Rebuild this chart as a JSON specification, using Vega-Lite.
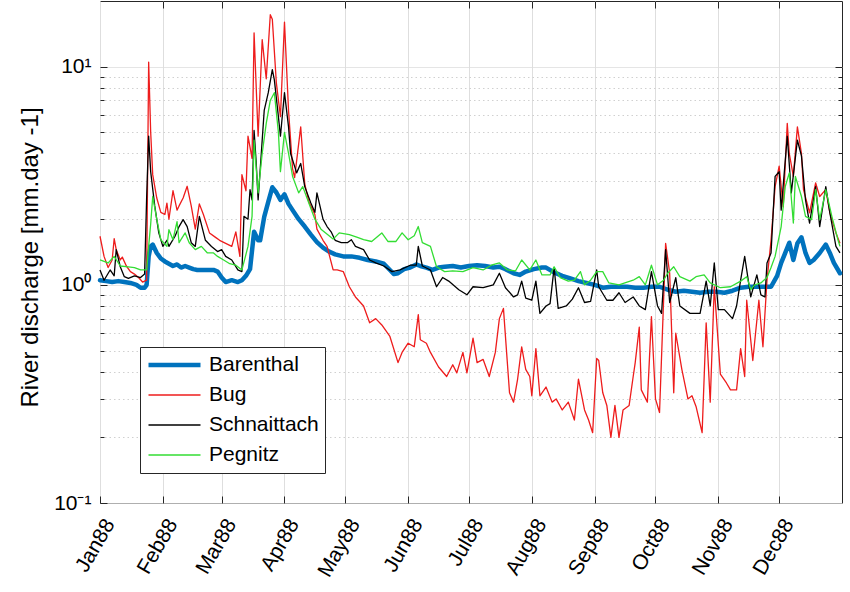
{
"$schema":"https://vega.github.io/schema/vega-lite/v6.json",
"width":742,"height":502,"autosize":"none",
"padding":{"left":100,"top":1,"right":8,"bottom":89},
"background":"white",
"config":{
 "font":"Liberation Sans",
 "view":{"stroke":"#262626","strokeWidth":1},
 "axis":{"labelFont":"Liberation Sans","labelFontSize":21,"labelColor":"#000000","titleFont":"Liberation Sans","titleFontSize":24,"titleFontWeight":"normal","titleColor":"#000000","domainColor":"#262626","tickColor":"#262626","tickWidth":1,"gridColor":"#dedede","gridWidth":1,"labelOverlap":false,"labelBound":false,"labelFlush":false}
},
"data":{"values":[
{"s":"Barenthal","t":"1988-01-01","v":1.05},{"s":"Barenthal","t":"1988-01-04","v":1.04},{"s":"Barenthal","t":"1988-01-07","v":1.03},{"s":"Barenthal","t":"1988-01-10","v":1.04},{"s":"Barenthal","t":"1988-01-13","v":1.03},{"s":"Barenthal","t":"1988-01-16","v":1.02},{"s":"Barenthal","t":"1988-01-19","v":1.0},{"s":"Barenthal","t":"1988-01-21","v":0.97},{"s":"Barenthal","t":"1988-01-23","v":0.97},{"s":"Barenthal","t":"1988-01-24","v":1.0},{"s":"Barenthal","t":"1988-01-25","v":1.35},{"s":"Barenthal","t":"1988-01-26","v":1.5},{"s":"Barenthal","t":"1988-01-27","v":1.53},{"s":"Barenthal","t":"1988-01-29","v":1.4},{"s":"Barenthal","t":"1988-01-31","v":1.32},{"s":"Barenthal","t":"1988-02-02","v":1.28},{"s":"Barenthal","t":"1988-02-04","v":1.25},{"s":"Barenthal","t":"1988-02-06","v":1.22},{"s":"Barenthal","t":"1988-02-08","v":1.24},{"s":"Barenthal","t":"1988-02-10","v":1.2},{"s":"Barenthal","t":"1988-02-12","v":1.22},{"s":"Barenthal","t":"1988-02-14","v":1.2},{"s":"Barenthal","t":"1988-02-16","v":1.18},{"s":"Barenthal","t":"1988-02-18","v":1.17},{"s":"Barenthal","t":"1988-02-20","v":1.17},{"s":"Barenthal","t":"1988-02-23","v":1.17},{"s":"Barenthal","t":"1988-02-26","v":1.17},{"s":"Barenthal","t":"1988-02-28","v":1.15},{"s":"Barenthal","t":"1988-03-01","v":1.08},{"s":"Barenthal","t":"1988-03-03","v":1.03},{"s":"Barenthal","t":"1988-03-06","v":1.05},{"s":"Barenthal","t":"1988-03-09","v":1.03},{"s":"Barenthal","t":"1988-03-11","v":1.05},{"s":"Barenthal","t":"1988-03-13","v":1.1},{"s":"Barenthal","t":"1988-03-15","v":1.18},{"s":"Barenthal","t":"1988-03-17","v":1.75},{"s":"Barenthal","t":"1988-03-19","v":1.6},{"s":"Barenthal","t":"1988-03-20","v":1.6},{"s":"Barenthal","t":"1988-03-22","v":2.05},{"s":"Barenthal","t":"1988-03-24","v":2.4},{"s":"Barenthal","t":"1988-03-26","v":2.8},{"s":"Barenthal","t":"1988-03-28","v":2.65},{"s":"Barenthal","t":"1988-03-30","v":2.45},{"s":"Barenthal","t":"1988-04-01","v":2.6},{"s":"Barenthal","t":"1988-04-03","v":2.35},{"s":"Barenthal","t":"1988-04-05","v":2.2},{"s":"Barenthal","t":"1988-04-08","v":2.0},{"s":"Barenthal","t":"1988-04-11","v":1.85},{"s":"Barenthal","t":"1988-04-14","v":1.7},{"s":"Barenthal","t":"1988-04-17","v":1.57},{"s":"Barenthal","t":"1988-04-20","v":1.48},{"s":"Barenthal","t":"1988-04-23","v":1.42},{"s":"Barenthal","t":"1988-04-26","v":1.38},{"s":"Barenthal","t":"1988-04-30","v":1.35},{"s":"Barenthal","t":"1988-05-04","v":1.35},{"s":"Barenthal","t":"1988-05-08","v":1.33},{"s":"Barenthal","t":"1988-05-12","v":1.3},{"s":"Barenthal","t":"1988-05-16","v":1.28},{"s":"Barenthal","t":"1988-05-20","v":1.25},{"s":"Barenthal","t":"1988-05-23","v":1.17},{"s":"Barenthal","t":"1988-05-25","v":1.12},{"s":"Barenthal","t":"1988-05-27","v":1.13},{"s":"Barenthal","t":"1988-05-30","v":1.18},{"s":"Barenthal","t":"1988-06-02","v":1.2},{"s":"Barenthal","t":"1988-06-05","v":1.24},{"s":"Barenthal","t":"1988-06-07","v":1.22},{"s":"Barenthal","t":"1988-06-10","v":1.2},{"s":"Barenthal","t":"1988-06-13","v":1.17},{"s":"Barenthal","t":"1988-06-16","v":1.2},{"s":"Barenthal","t":"1988-06-19","v":1.21},{"s":"Barenthal","t":"1988-06-23","v":1.22},{"s":"Barenthal","t":"1988-06-27","v":1.2},{"s":"Barenthal","t":"1988-07-01","v":1.22},{"s":"Barenthal","t":"1988-07-05","v":1.23},{"s":"Barenthal","t":"1988-07-09","v":1.22},{"s":"Barenthal","t":"1988-07-13","v":1.2},{"s":"Barenthal","t":"1988-07-16","v":1.21},{"s":"Barenthal","t":"1988-07-19","v":1.18},{"s":"Barenthal","t":"1988-07-23","v":1.13},{"s":"Barenthal","t":"1988-07-26","v":1.11},{"s":"Barenthal","t":"1988-07-29","v":1.15},{"s":"Barenthal","t":"1988-08-02","v":1.18},{"s":"Barenthal","t":"1988-08-06","v":1.2},{"s":"Barenthal","t":"1988-08-08","v":1.2},{"s":"Barenthal","t":"1988-08-12","v":1.14},{"s":"Barenthal","t":"1988-08-16","v":1.1},{"s":"Barenthal","t":"1988-08-20","v":1.07},{"s":"Barenthal","t":"1988-08-24","v":1.04},{"s":"Barenthal","t":"1988-08-28","v":1.02},{"s":"Barenthal","t":"1988-09-01","v":1.0},{"s":"Barenthal","t":"1988-09-05","v":0.97},{"s":"Barenthal","t":"1988-09-09","v":0.98},{"s":"Barenthal","t":"1988-09-13","v":0.98},{"s":"Barenthal","t":"1988-09-17","v":0.98},{"s":"Barenthal","t":"1988-09-21","v":0.97},{"s":"Barenthal","t":"1988-09-25","v":0.97},{"s":"Barenthal","t":"1988-09-29","v":0.98},{"s":"Barenthal","t":"1988-10-03","v":0.98},{"s":"Barenthal","t":"1988-10-07","v":0.95},{"s":"Barenthal","t":"1988-10-11","v":0.93},{"s":"Barenthal","t":"1988-10-15","v":0.94},{"s":"Barenthal","t":"1988-10-19","v":0.93},{"s":"Barenthal","t":"1988-10-23","v":0.92},{"s":"Barenthal","t":"1988-10-27","v":0.93},{"s":"Barenthal","t":"1988-10-31","v":0.93},{"s":"Barenthal","t":"1988-11-04","v":0.92},{"s":"Barenthal","t":"1988-11-08","v":0.94},{"s":"Barenthal","t":"1988-11-12","v":0.97},{"s":"Barenthal","t":"1988-11-16","v":0.98},{"s":"Barenthal","t":"1988-11-20","v":0.98},{"s":"Barenthal","t":"1988-11-24","v":0.98},{"s":"Barenthal","t":"1988-11-27","v":0.98},{"s":"Barenthal","t":"1988-11-30","v":1.1},{"s":"Barenthal","t":"1988-12-02","v":1.26},{"s":"Barenthal","t":"1988-12-04","v":1.4},{"s":"Barenthal","t":"1988-12-06","v":1.56},{"s":"Barenthal","t":"1988-12-08","v":1.3},{"s":"Barenthal","t":"1988-12-10","v":1.55},{"s":"Barenthal","t":"1988-12-12","v":1.65},{"s":"Barenthal","t":"1988-12-14","v":1.4},{"s":"Barenthal","t":"1988-12-16","v":1.26},{"s":"Barenthal","t":"1988-12-18","v":1.3},{"s":"Barenthal","t":"1988-12-21","v":1.4},{"s":"Barenthal","t":"1988-12-24","v":1.53},{"s":"Barenthal","t":"1988-12-26","v":1.4},{"s":"Barenthal","t":"1988-12-28","v":1.26},{"s":"Barenthal","t":"1988-12-31","v":1.13},
{"s":"Bug","t":"1988-01-01","v":1.67},{"s":"Bug","t":"1988-01-03","v":1.35},{"s":"Bug","t":"1988-01-05","v":1.2},{"s":"Bug","t":"1988-01-07","v":1.3},{"s":"Bug","t":"1988-01-08","v":1.63},{"s":"Bug","t":"1988-01-09","v":1.45},{"s":"Bug","t":"1988-01-11","v":1.3},{"s":"Bug","t":"1988-01-12","v":1.34},{"s":"Bug","t":"1988-01-14","v":1.22},{"s":"Bug","t":"1988-01-16","v":1.15},{"s":"Bug","t":"1988-01-18","v":1.12},{"s":"Bug","t":"1988-01-20","v":1.08},{"s":"Bug","t":"1988-01-22","v":1.03},{"s":"Bug","t":"1988-01-24","v":1.05},{"s":"Bug","t":"1988-01-25","v":10.5},{"s":"Bug","t":"1988-01-26","v":5.0},{"s":"Bug","t":"1988-01-27","v":3.2},{"s":"Bug","t":"1988-01-29","v":2.5},{"s":"Bug","t":"1988-01-31","v":2.15},{"s":"Bug","t":"1988-02-02","v":2.1},{"s":"Bug","t":"1988-02-03","v":2.37},{"s":"Bug","t":"1988-02-04","v":2.0},{"s":"Bug","t":"1988-02-06","v":2.7},{"s":"Bug","t":"1988-02-08","v":2.2},{"s":"Bug","t":"1988-02-09","v":2.3},{"s":"Bug","t":"1988-02-11","v":2.5},{"s":"Bug","t":"1988-02-13","v":2.83},{"s":"Bug","t":"1988-02-15","v":2.3},{"s":"Bug","t":"1988-02-17","v":1.8},{"s":"Bug","t":"1988-02-19","v":2.35},{"s":"Bug","t":"1988-02-21","v":2.1},{"s":"Bug","t":"1988-02-24","v":1.73},{"s":"Bug","t":"1988-02-27","v":1.65},{"s":"Bug","t":"1988-02-29","v":1.6},{"s":"Bug","t":"1988-03-03","v":1.55},{"s":"Bug","t":"1988-03-06","v":1.5},{"s":"Bug","t":"1988-03-08","v":1.75},{"s":"Bug","t":"1988-03-10","v":1.35},{"s":"Bug","t":"1988-03-11","v":3.2},{"s":"Bug","t":"1988-03-13","v":2.7},{"s":"Bug","t":"1988-03-14","v":4.8},{"s":"Bug","t":"1988-03-16","v":3.8},{"s":"Bug","t":"1988-03-17","v":14.3},{"s":"Bug","t":"1988-03-19","v":4.8},{"s":"Bug","t":"1988-03-21","v":13.3},{"s":"Bug","t":"1988-03-23","v":8.8},{"s":"Bug","t":"1988-03-25","v":17.3},{"s":"Bug","t":"1988-03-26","v":16.5},{"s":"Bug","t":"1988-03-28","v":8.4},{"s":"Bug","t":"1988-03-30","v":5.9},{"s":"Bug","t":"1988-04-01","v":16},{"s":"Bug","t":"1988-04-03","v":6.3},{"s":"Bug","t":"1988-04-05","v":3.4},{"s":"Bug","t":"1988-04-06","v":3.1},{"s":"Bug","t":"1988-04-09","v":5.3},{"s":"Bug","t":"1988-04-11","v":2.9},{"s":"Bug","t":"1988-04-13","v":2.4},{"s":"Bug","t":"1988-04-16","v":2.1},{"s":"Bug","t":"1988-04-17","v":1.8},{"s":"Bug","t":"1988-04-20","v":1.6},{"s":"Bug","t":"1988-04-22","v":1.5},{"s":"Bug","t":"1988-04-25","v":1.17},{"s":"Bug","t":"1988-04-27","v":1.17},{"s":"Bug","t":"1988-04-30","v":1.15},{"s":"Bug","t":"1988-05-03","v":0.98},{"s":"Bug","t":"1988-05-06","v":0.88},{"s":"Bug","t":"1988-05-10","v":0.8},{"s":"Bug","t":"1988-05-13","v":0.67},{"s":"Bug","t":"1988-05-16","v":0.7},{"s":"Bug","t":"1988-05-19","v":0.655},{"s":"Bug","t":"1988-05-23","v":0.58},{"s":"Bug","t":"1988-05-27","v":0.44},{"s":"Bug","t":"1988-05-29","v":0.49},{"s":"Bug","t":"1988-06-01","v":0.54},{"s":"Bug","t":"1988-06-04","v":0.52},{"s":"Bug","t":"1988-06-06","v":0.73},{"s":"Bug","t":"1988-06-07","v":0.56},{"s":"Bug","t":"1988-06-10","v":0.54},{"s":"Bug","t":"1988-06-12","v":0.49},{"s":"Bug","t":"1988-06-16","v":0.42},{"s":"Bug","t":"1988-06-20","v":0.38},{"s":"Bug","t":"1988-06-23","v":0.43},{"s":"Bug","t":"1988-06-25","v":0.395},{"s":"Bug","t":"1988-06-28","v":0.49},{"s":"Bug","t":"1988-06-30","v":0.395},{"s":"Bug","t":"1988-07-03","v":0.57},{"s":"Bug","t":"1988-07-05","v":0.44},{"s":"Bug","t":"1988-07-08","v":0.455},{"s":"Bug","t":"1988-07-11","v":0.38},{"s":"Bug","t":"1988-07-14","v":0.49},{"s":"Bug","t":"1988-07-16","v":0.7},{"s":"Bug","t":"1988-07-18","v":0.78},{"s":"Bug","t":"1988-07-21","v":0.32},{"s":"Bug","t":"1988-07-23","v":0.29},{"s":"Bug","t":"1988-07-25","v":0.37},{"s":"Bug","t":"1988-07-27","v":0.52},{"s":"Bug","t":"1988-07-29","v":0.41},{"s":"Bug","t":"1988-07-31","v":0.38},{"s":"Bug","t":"1988-08-01","v":0.31},{"s":"Bug","t":"1988-08-03","v":0.51},{"s":"Bug","t":"1988-08-05","v":0.31},{"s":"Bug","t":"1988-08-08","v":0.34},{"s":"Bug","t":"1988-08-11","v":0.29},{"s":"Bug","t":"1988-08-13","v":0.3},{"s":"Bug","t":"1988-08-16","v":0.267},{"s":"Bug","t":"1988-08-19","v":0.29},{"s":"Bug","t":"1988-08-22","v":0.24},{"s":"Bug","t":"1988-08-24","v":0.37},{"s":"Bug","t":"1988-08-27","v":0.267},{"s":"Bug","t":"1988-08-29","v":0.24},{"s":"Bug","t":"1988-08-31","v":0.21},{"s":"Bug","t":"1988-09-02","v":0.46},{"s":"Bug","t":"1988-09-03","v":0.45},{"s":"Bug","t":"1988-09-05","v":0.32},{"s":"Bug","t":"1988-09-07","v":0.28},{"s":"Bug","t":"1988-09-09","v":0.2},{"s":"Bug","t":"1988-09-11","v":0.28},{"s":"Bug","t":"1988-09-13","v":0.2},{"s":"Bug","t":"1988-09-15","v":0.267},{"s":"Bug","t":"1988-09-18","v":0.28},{"s":"Bug","t":"1988-09-20","v":0.38},{"s":"Bug","t":"1988-09-21","v":0.44},{"s":"Bug","t":"1988-09-23","v":0.64},{"s":"Bug","t":"1988-09-24","v":0.33},{"s":"Bug","t":"1988-09-27","v":0.29},{"s":"Bug","t":"1988-09-29","v":0.715},{"s":"Bug","t":"1988-10-01","v":0.3},{"s":"Bug","t":"1988-10-03","v":0.26},{"s":"Bug","t":"1988-10-05","v":0.85},{"s":"Bug","t":"1988-10-06","v":1.55},{"s":"Bug","t":"1988-10-08","v":1.13},{"s":"Bug","t":"1988-10-10","v":0.32},{"s":"Bug","t":"1988-10-11","v":0.6},{"s":"Bug","t":"1988-10-14","v":0.41},{"s":"Bug","t":"1988-10-17","v":0.3},{"s":"Bug","t":"1988-10-19","v":0.31},{"s":"Bug","t":"1988-10-21","v":0.277},{"s":"Bug","t":"1988-10-24","v":0.21},{"s":"Bug","t":"1988-10-26","v":0.67},{"s":"Bug","t":"1988-10-28","v":0.29},{"s":"Bug","t":"1988-10-30","v":0.98},{"s":"Bug","t":"1988-11-02","v":0.39},{"s":"Bug","t":"1988-11-05","v":0.355},{"s":"Bug","t":"1988-11-07","v":0.33},{"s":"Bug","t":"1988-11-10","v":0.33},{"s":"Bug","t":"1988-11-12","v":0.51},{"s":"Bug","t":"1988-11-14","v":0.38},{"s":"Bug","t":"1988-11-15","v":0.85},{"s":"Bug","t":"1988-11-18","v":0.45},{"s":"Bug","t":"1988-11-21","v":0.85},{"s":"Bug","t":"1988-11-23","v":0.52},{"s":"Bug","t":"1988-11-25","v":1.05},{"s":"Bug","t":"1988-11-27","v":1.6},{"s":"Bug","t":"1988-11-29","v":2.82},{"s":"Bug","t":"1988-12-01","v":3.5},{"s":"Bug","t":"1988-12-03","v":2.28},{"s":"Bug","t":"1988-12-05","v":5.5},{"s":"Bug","t":"1988-12-06","v":4.0},{"s":"Bug","t":"1988-12-08","v":3.14},{"s":"Bug","t":"1988-12-10","v":5.3},{"s":"Bug","t":"1988-12-12","v":4.0},{"s":"Bug","t":"1988-12-13","v":2.73},{"s":"Bug","t":"1988-12-16","v":2.14},{"s":"Bug","t":"1988-12-19","v":2.93},{"s":"Bug","t":"1988-12-21","v":2.54},{"s":"Bug","t":"1988-12-24","v":2.73},{"s":"Bug","t":"1988-12-26","v":2.14},{"s":"Bug","t":"1988-12-29","v":1.73},{"s":"Bug","t":"1988-12-31","v":1.55},
{"s":"Schnaittach","t":"1988-01-01","v":1.17},{"s":"Schnaittach","t":"1988-01-03","v":1.05},{"s":"Schnaittach","t":"1988-01-06","v":1.17},{"s":"Schnaittach","t":"1988-01-08","v":1.1},{"s":"Schnaittach","t":"1988-01-09","v":1.45},{"s":"Schnaittach","t":"1988-01-11","v":1.21},{"s":"Schnaittach","t":"1988-01-13","v":1.09},{"s":"Schnaittach","t":"1988-01-15","v":1.07},{"s":"Schnaittach","t":"1988-01-18","v":1.1},{"s":"Schnaittach","t":"1988-01-21","v":1.08},{"s":"Schnaittach","t":"1988-01-23","v":1.12},{"s":"Schnaittach","t":"1988-01-24","v":2.5},{"s":"Schnaittach","t":"1988-01-25","v":4.8},{"s":"Schnaittach","t":"1988-01-26","v":3.3},{"s":"Schnaittach","t":"1988-01-28","v":2.3},{"s":"Schnaittach","t":"1988-01-30","v":1.73},{"s":"Schnaittach","t":"1988-02-01","v":1.5},{"s":"Schnaittach","t":"1988-02-03","v":1.6},{"s":"Schnaittach","t":"1988-02-04","v":1.5},{"s":"Schnaittach","t":"1988-02-07","v":1.67},{"s":"Schnaittach","t":"1988-02-09","v":1.85},{"s":"Schnaittach","t":"1988-02-11","v":1.99},{"s":"Schnaittach","t":"1988-02-13","v":1.85},{"s":"Schnaittach","t":"1988-02-15","v":1.56},{"s":"Schnaittach","t":"1988-02-17","v":1.5},{"s":"Schnaittach","t":"1988-02-19","v":2.06},{"s":"Schnaittach","t":"1988-02-22","v":1.6},{"s":"Schnaittach","t":"1988-02-25","v":1.5},{"s":"Schnaittach","t":"1988-02-28","v":1.42},{"s":"Schnaittach","t":"1988-03-01","v":1.45},{"s":"Schnaittach","t":"1988-03-03","v":1.35},{"s":"Schnaittach","t":"1988-03-06","v":1.3},{"s":"Schnaittach","t":"1988-03-09","v":1.17},{"s":"Schnaittach","t":"1988-03-11","v":1.15},{"s":"Schnaittach","t":"1988-03-12","v":2.06},{"s":"Schnaittach","t":"1988-03-14","v":2.0},{"s":"Schnaittach","t":"1988-03-15","v":2.73},{"s":"Schnaittach","t":"1988-03-16","v":2.45},{"s":"Schnaittach","t":"1988-03-17","v":5.1},{"s":"Schnaittach","t":"1988-03-18","v":3.7},{"s":"Schnaittach","t":"1988-03-19","v":2.45},{"s":"Schnaittach","t":"1988-03-21","v":4.6},{"s":"Schnaittach","t":"1988-03-22","v":6.3},{"s":"Schnaittach","t":"1988-03-24","v":7.6},{"s":"Schnaittach","t":"1988-03-26","v":9.7},{"s":"Schnaittach","t":"1988-03-27","v":8.7},{"s":"Schnaittach","t":"1988-03-29","v":5.9},{"s":"Schnaittach","t":"1988-03-30","v":4.8},{"s":"Schnaittach","t":"1988-04-01","v":7.6},{"s":"Schnaittach","t":"1988-04-03","v":5.3},{"s":"Schnaittach","t":"1988-04-04","v":4.0},{"s":"Schnaittach","t":"1988-04-07","v":3.26},{"s":"Schnaittach","t":"1988-04-09","v":3.6},{"s":"Schnaittach","t":"1988-04-11","v":2.82},{"s":"Schnaittach","t":"1988-04-14","v":2.37},{"s":"Schnaittach","t":"1988-04-16","v":2.15},{"s":"Schnaittach","t":"1988-04-17","v":2.64},{"s":"Schnaittach","t":"1988-04-20","v":2.0},{"s":"Schnaittach","t":"1988-04-22","v":1.85},{"s":"Schnaittach","t":"1988-04-24","v":1.75},{"s":"Schnaittach","t":"1988-04-26","v":1.6},{"s":"Schnaittach","t":"1988-04-29","v":1.56},{"s":"Schnaittach","t":"1988-05-02","v":1.56},{"s":"Schnaittach","t":"1988-05-04","v":1.61},{"s":"Schnaittach","t":"1988-05-06","v":1.5},{"s":"Schnaittach","t":"1988-05-10","v":1.45},{"s":"Schnaittach","t":"1988-05-13","v":1.3},{"s":"Schnaittach","t":"1988-05-16","v":1.26},{"s":"Schnaittach","t":"1988-05-20","v":1.22},{"s":"Schnaittach","t":"1988-05-24","v":1.15},{"s":"Schnaittach","t":"1988-05-28","v":1.17},{"s":"Schnaittach","t":"1988-06-02","v":1.23},{"s":"Schnaittach","t":"1988-06-05","v":1.23},{"s":"Schnaittach","t":"1988-06-06","v":1.5},{"s":"Schnaittach","t":"1988-06-08","v":1.22},{"s":"Schnaittach","t":"1988-06-12","v":1.17},{"s":"Schnaittach","t":"1988-06-15","v":0.98},{"s":"Schnaittach","t":"1988-06-18","v":1.08},{"s":"Schnaittach","t":"1988-06-21","v":1.04},{"s":"Schnaittach","t":"1988-06-26","v":0.95},{"s":"Schnaittach","t":"1988-06-30","v":0.9},{"s":"Schnaittach","t":"1988-07-03","v":0.98},{"s":"Schnaittach","t":"1988-07-08","v":0.97},{"s":"Schnaittach","t":"1988-07-13","v":1.0},{"s":"Schnaittach","t":"1988-07-16","v":1.13},{"s":"Schnaittach","t":"1988-07-19","v":0.97},{"s":"Schnaittach","t":"1988-07-23","v":0.88},{"s":"Schnaittach","t":"1988-07-25","v":0.9},{"s":"Schnaittach","t":"1988-07-27","v":1.04},{"s":"Schnaittach","t":"1988-07-29","v":0.87},{"s":"Schnaittach","t":"1988-08-01","v":0.85},{"s":"Schnaittach","t":"1988-08-03","v":1.04},{"s":"Schnaittach","t":"1988-08-05","v":0.74},{"s":"Schnaittach","t":"1988-08-08","v":0.8},{"s":"Schnaittach","t":"1988-08-10","v":0.82},{"s":"Schnaittach","t":"1988-08-12","v":1.2},{"s":"Schnaittach","t":"1988-08-14","v":0.78},{"s":"Schnaittach","t":"1988-08-18","v":0.8},{"s":"Schnaittach","t":"1988-08-21","v":0.86},{"s":"Schnaittach","t":"1988-08-24","v":0.97},{"s":"Schnaittach","t":"1988-08-27","v":0.83},{"s":"Schnaittach","t":"1988-08-30","v":0.84},{"s":"Schnaittach","t":"1988-09-02","v":1.17},{"s":"Schnaittach","t":"1988-09-03","v":0.98},{"s":"Schnaittach","t":"1988-09-07","v":0.85},{"s":"Schnaittach","t":"1988-09-10","v":0.85},{"s":"Schnaittach","t":"1988-09-13","v":0.92},{"s":"Schnaittach","t":"1988-09-16","v":0.83},{"s":"Schnaittach","t":"1988-09-20","v":0.88},{"s":"Schnaittach","t":"1988-09-23","v":0.8},{"s":"Schnaittach","t":"1988-09-26","v":0.77},{"s":"Schnaittach","t":"1988-09-29","v":1.15},{"s":"Schnaittach","t":"1988-10-02","v":0.8},{"s":"Schnaittach","t":"1988-10-04","v":0.74},{"s":"Schnaittach","t":"1988-10-06","v":1.45},{"s":"Schnaittach","t":"1988-10-08","v":0.83},{"s":"Schnaittach","t":"1988-10-11","v":1.08},{"s":"Schnaittach","t":"1988-10-13","v":0.8},{"s":"Schnaittach","t":"1988-10-18","v":0.74},{"s":"Schnaittach","t":"1988-10-23","v":0.74},{"s":"Schnaittach","t":"1988-10-26","v":1.04},{"s":"Schnaittach","t":"1988-10-28","v":0.8},{"s":"Schnaittach","t":"1988-10-30","v":1.26},{"s":"Schnaittach","t":"1988-11-01","v":0.77},{"s":"Schnaittach","t":"1988-11-04","v":0.77},{"s":"Schnaittach","t":"1988-11-08","v":0.7},{"s":"Schnaittach","t":"1988-11-10","v":0.8},{"s":"Schnaittach","t":"1988-11-12","v":1.05},{"s":"Schnaittach","t":"1988-11-14","v":1.35},{"s":"Schnaittach","t":"1988-11-17","v":0.88},{"s":"Schnaittach","t":"1988-11-20","v":1.11},{"s":"Schnaittach","t":"1988-11-22","v":0.9},{"s":"Schnaittach","t":"1988-11-24","v":0.88},{"s":"Schnaittach","t":"1988-11-25","v":1.26},{"s":"Schnaittach","t":"1988-11-27","v":1.4},{"s":"Schnaittach","t":"1988-11-29","v":3.14},{"s":"Schnaittach","t":"1988-12-01","v":3.3},{"s":"Schnaittach","t":"1988-12-02","v":2.2},{"s":"Schnaittach","t":"1988-12-05","v":4.8},{"s":"Schnaittach","t":"1988-12-07","v":2.64},{"s":"Schnaittach","t":"1988-12-10","v":4.6},{"s":"Schnaittach","t":"1988-12-12","v":3.9},{"s":"Schnaittach","t":"1988-12-14","v":2.45},{"s":"Schnaittach","t":"1988-12-16","v":1.92},{"s":"Schnaittach","t":"1988-12-19","v":2.82},{"s":"Schnaittach","t":"1988-12-21","v":1.85},{"s":"Schnaittach","t":"1988-12-24","v":2.82},{"s":"Schnaittach","t":"1988-12-26","v":2.14},{"s":"Schnaittach","t":"1988-12-29","v":1.5},{"s":"Schnaittach","t":"1988-12-31","v":1.4},
{"s":"Pegnitz","t":"1988-01-01","v":1.3},{"s":"Pegnitz","t":"1988-01-05","v":1.26},{"s":"Pegnitz","t":"1988-01-08","v":1.35},{"s":"Pegnitz","t":"1988-01-11","v":1.22},{"s":"Pegnitz","t":"1988-01-15","v":1.21},{"s":"Pegnitz","t":"1988-01-18","v":1.2},{"s":"Pegnitz","t":"1988-01-21","v":1.17},{"s":"Pegnitz","t":"1988-01-24","v":1.17},{"s":"Pegnitz","t":"1988-01-25","v":1.5},{"s":"Pegnitz","t":"1988-01-26","v":1.9},{"s":"Pegnitz","t":"1988-01-27","v":2.54},{"s":"Pegnitz","t":"1988-01-29","v":2.0},{"s":"Pegnitz","t":"1988-01-31","v":1.61},{"s":"Pegnitz","t":"1988-02-03","v":1.5},{"s":"Pegnitz","t":"1988-02-04","v":1.79},{"s":"Pegnitz","t":"1988-02-06","v":1.61},{"s":"Pegnitz","t":"1988-02-08","v":1.95},{"s":"Pegnitz","t":"1988-02-09","v":1.56},{"s":"Pegnitz","t":"1988-02-12","v":1.73},{"s":"Pegnitz","t":"1988-02-14","v":1.56},{"s":"Pegnitz","t":"1988-02-17","v":1.45},{"s":"Pegnitz","t":"1988-02-20","v":1.5},{"s":"Pegnitz","t":"1988-02-23","v":1.4},{"s":"Pegnitz","t":"1988-02-26","v":1.4},{"s":"Pegnitz","t":"1988-02-28","v":1.35},{"s":"Pegnitz","t":"1988-03-02","v":1.3},{"s":"Pegnitz","t":"1988-03-05","v":1.25},{"s":"Pegnitz","t":"1988-03-08","v":1.23},{"s":"Pegnitz","t":"1988-03-11","v":1.17},{"s":"Pegnitz","t":"1988-03-14","v":1.5},{"s":"Pegnitz","t":"1988-03-16","v":2.06},{"s":"Pegnitz","t":"1988-03-17","v":4.6},{"s":"Pegnitz","t":"1988-03-19","v":2.64},{"s":"Pegnitz","t":"1988-03-21","v":4.0},{"s":"Pegnitz","t":"1988-03-23","v":5.5},{"s":"Pegnitz","t":"1988-03-25","v":7.0},{"s":"Pegnitz","t":"1988-03-27","v":7.6},{"s":"Pegnitz","t":"1988-03-29","v":5.0},{"s":"Pegnitz","t":"1988-03-30","v":3.3},{"s":"Pegnitz","t":"1988-04-01","v":5.0},{"s":"Pegnitz","t":"1988-04-03","v":4.0},{"s":"Pegnitz","t":"1988-04-05","v":3.14},{"s":"Pegnitz","t":"1988-04-08","v":2.64},{"s":"Pegnitz","t":"1988-04-10","v":2.82},{"s":"Pegnitz","t":"1988-04-13","v":2.37},{"s":"Pegnitz","t":"1988-04-16","v":2.0},{"s":"Pegnitz","t":"1988-04-19","v":1.8},{"s":"Pegnitz","t":"1988-04-23","v":1.68},{"s":"Pegnitz","t":"1988-04-25","v":1.62},{"s":"Pegnitz","t":"1988-04-28","v":1.73},{"s":"Pegnitz","t":"1988-05-03","v":1.7},{"s":"Pegnitz","t":"1988-05-07","v":1.65},{"s":"Pegnitz","t":"1988-05-10","v":1.61},{"s":"Pegnitz","t":"1988-05-14","v":1.58},{"s":"Pegnitz","t":"1988-05-19","v":1.73},{"s":"Pegnitz","t":"1988-05-22","v":1.58},{"s":"Pegnitz","t":"1988-05-26","v":1.58},{"s":"Pegnitz","t":"1988-05-29","v":1.73},{"s":"Pegnitz","t":"1988-06-01","v":1.61},{"s":"Pegnitz","t":"1988-06-04","v":1.68},{"s":"Pegnitz","t":"1988-06-06","v":1.85},{"s":"Pegnitz","t":"1988-06-08","v":1.56},{"s":"Pegnitz","t":"1988-06-12","v":1.5},{"s":"Pegnitz","t":"1988-06-15","v":1.21},{"s":"Pegnitz","t":"1988-06-19","v":1.15},{"s":"Pegnitz","t":"1988-06-23","v":1.16},{"s":"Pegnitz","t":"1988-06-28","v":1.15},{"s":"Pegnitz","t":"1988-07-03","v":1.2},{"s":"Pegnitz","t":"1988-07-08","v":1.17},{"s":"Pegnitz","t":"1988-07-12","v":1.23},{"s":"Pegnitz","t":"1988-07-16","v":1.26},{"s":"Pegnitz","t":"1988-07-20","v":1.17},{"s":"Pegnitz","t":"1988-07-24","v":1.16},{"s":"Pegnitz","t":"1988-07-27","v":1.3},{"s":"Pegnitz","t":"1988-07-31","v":1.17},{"s":"Pegnitz","t":"1988-08-03","v":1.3},{"s":"Pegnitz","t":"1988-08-06","v":1.11},{"s":"Pegnitz","t":"1988-08-10","v":1.11},{"s":"Pegnitz","t":"1988-08-12","v":1.21},{"s":"Pegnitz","t":"1988-08-15","v":1.08},{"s":"Pegnitz","t":"1988-08-19","v":1.04},{"s":"Pegnitz","t":"1988-08-22","v":1.05},{"s":"Pegnitz","t":"1988-08-25","v":1.15},{"s":"Pegnitz","t":"1988-08-27","v":1.0},{"s":"Pegnitz","t":"1988-08-30","v":1.05},{"s":"Pegnitz","t":"1988-09-02","v":1.15},{"s":"Pegnitz","t":"1988-09-05","v":1.15},{"s":"Pegnitz","t":"1988-09-08","v":1.02},{"s":"Pegnitz","t":"1988-09-13","v":1.0},{"s":"Pegnitz","t":"1988-09-17","v":1.03},{"s":"Pegnitz","t":"1988-09-20","v":1.05},{"s":"Pegnitz","t":"1988-09-23","v":1.09},{"s":"Pegnitz","t":"1988-09-26","v":1.0},{"s":"Pegnitz","t":"1988-09-29","v":1.23},{"s":"Pegnitz","t":"1988-10-02","v":1.0},{"s":"Pegnitz","t":"1988-10-05","v":1.05},{"s":"Pegnitz","t":"1988-10-07","v":1.13},{"s":"Pegnitz","t":"1988-10-10","v":1.21},{"s":"Pegnitz","t":"1988-10-13","v":1.09},{"s":"Pegnitz","t":"1988-10-18","v":1.04},{"s":"Pegnitz","t":"1988-10-21","v":1.09},{"s":"Pegnitz","t":"1988-10-25","v":1.11},{"s":"Pegnitz","t":"1988-10-28","v":1.02},{"s":"Pegnitz","t":"1988-11-02","v":0.97},{"s":"Pegnitz","t":"1988-11-07","v":0.98},{"s":"Pegnitz","t":"1988-11-12","v":1.04},{"s":"Pegnitz","t":"1988-11-15","v":1.09},{"s":"Pegnitz","t":"1988-11-17","v":0.95},{"s":"Pegnitz","t":"1988-11-19","v":1.0},{"s":"Pegnitz","t":"1988-11-22","v":1.02},{"s":"Pegnitz","t":"1988-11-25","v":1.08},{"s":"Pegnitz","t":"1988-11-27","v":1.2},{"s":"Pegnitz","t":"1988-11-29","v":1.35},{"s":"Pegnitz","t":"1988-12-02","v":1.85},{"s":"Pegnitz","t":"1988-12-04","v":2.82},{"s":"Pegnitz","t":"1988-12-06","v":3.26},{"s":"Pegnitz","t":"1988-12-08","v":1.92},{"s":"Pegnitz","t":"1988-12-09","v":3.14},{"s":"Pegnitz","t":"1988-12-12","v":2.54},{"s":"Pegnitz","t":"1988-12-14","v":2.06},{"s":"Pegnitz","t":"1988-12-17","v":1.99},{"s":"Pegnitz","t":"1988-12-19","v":2.73},{"s":"Pegnitz","t":"1988-12-21","v":1.99},{"s":"Pegnitz","t":"1988-12-24","v":2.73},{"s":"Pegnitz","t":"1988-12-27","v":2.06},{"s":"Pegnitz","t":"1988-12-30","v":1.61},{"s":"Pegnitz","t":"1988-12-31","v":1.5}
]},
"encoding":{
 "color":{"field":"s","type":"nominal","title":null,"scale":{"domain":["Barenthal","Bug","Schnaittach","Pegnitz"],"range":["#0072bd","#ee1c1c","#000000","#33dd33"]},
  "legend":{"orient":"none","legendX":40,"legendY":346,"symbolType":"stroke","symbolSize":2704,"clipHeight":24,"rowPadding":6,"padding":6,"labelFont":"Liberation Sans","labelFontSize":21,"labelColor":"#000000","labelOffset":6,"labelLimit":400,"strokeColor":"#262626","fillColor":"white"}},
 "strokeWidth":{"field":"s","type":"nominal","title":null,"scale":{"type":"ordinal","domain":["Barenthal","Bug","Schnaittach","Pegnitz"],"range":[4.5,1.3,1.3,1.3]},
  "legend":{"orient":"none","legendX":40,"legendY":346,"symbolType":"stroke","symbolSize":2704,"clipHeight":24,"rowPadding":6,"padding":6,"labelFont":"Liberation Sans","labelFontSize":21,"labelColor":"#000000","labelOffset":6,"labelLimit":400,"strokeColor":"#262626","fillColor":"white"}}
},
"layer":[
 {"transform":[{"filter":"datum.s==='Barenthal'"}],
  "mark":{"type":"line","strokeJoin":"round","strokeCap":"round"},
  "encoding":{
   "x":{"field":"t","type":"temporal","scale":{"type":"utc","domain":[{"year":1988,"month":1,"date":1,"utc":true},{"year":1989,"month":1,"date":1,"utc":true}]},
    "axis":{"orient":"bottom","title":null,"labelExpr":"utcFormat(datum.value, '%b%y')","values":[{"year":1988,"month":1,"date":1,"utc":true},{"year":1988,"month":2,"date":1,"utc":true},{"year":1988,"month":3,"date":1,"utc":true},{"year":1988,"month":4,"date":1,"utc":true},{"year":1988,"month":5,"date":1,"utc":true},{"year":1988,"month":6,"date":1,"utc":true},{"year":1988,"month":7,"date":1,"utc":true},{"year":1988,"month":8,"date":1,"utc":true},{"year":1988,"month":9,"date":1,"utc":true},{"year":1988,"month":10,"date":1,"utc":true},{"year":1988,"month":11,"date":1,"utc":true},{"year":1988,"month":12,"date":1,"utc":true}],
     "labelAngle":-60,"labelAlign":"right","labelBaseline":"top","labelPadding":19,"tickSize":-7,"domain":false,"grid":true,"gridColor":"#dedede"}},
   "y":{"field":"v","type":"quantitative","scale":{"type":"log","domain":[0.1,20],"nice":false},
    "axis":{"orient":"left","title":"River discharge [mm.day -1]","titleX":-70,"titleY":256,"titleBaseline":"middle","titleAlign":"center","titleAngle":270,
     "values":[0.1,0.2,0.3,0.4,0.5,0.6,0.7,0.8,0.9,1,2,3,4,5,6,7,8,9,10],
     "labelExpr":"datum.value===10 ? '10¹' : datum.value===1 ? '10⁰' : datum.value===0.1 ? '10⁻¹' : ''",
     "labelPadding":16,"domain":false,"grid":true,
     "gridColor":{"condition":{"test":"datum.value===0.1||datum.value===1||datum.value===10","value":"#dcdcdc"},"value":"#d0d0d0"},
     "gridDash":{"condition":{"test":"datum.value===0.1||datum.value===1||datum.value===10","value":[1,0]},"value":[1.5,3]},
     "tickSize":{"condition":{"test":"datum.value===0.1||datum.value===1||datum.value===10","value":-7},"value":-4}}}
  }},
 {"transform":[{"filter":"datum.s==='Bug'"}],
  "mark":{"type":"line","strokeJoin":"round"},
  "encoding":{"x":{"field":"t","type":"temporal","axis":null},"y":{"field":"v","type":"quantitative","axis":null}}},
 {"transform":[{"filter":"datum.s==='Schnaittach'"}],
  "mark":{"type":"line","strokeJoin":"round"},
  "encoding":{"x":{"field":"t","type":"temporal","axis":null},"y":{"field":"v","type":"quantitative","axis":null}}},
 {"transform":[{"filter":"datum.s==='Pegnitz'"}],
  "mark":{"type":"line","strokeJoin":"round"},
  "encoding":{
   "x":{"field":"t","type":"temporal","axis":{"orient":"top","title":null,"labels":false,"grid":false,"domain":false,"tickSize":-7,"values":[{"year":1988,"month":2,"date":1,"utc":true},{"year":1988,"month":3,"date":1,"utc":true},{"year":1988,"month":4,"date":1,"utc":true},{"year":1988,"month":5,"date":1,"utc":true},{"year":1988,"month":6,"date":1,"utc":true},{"year":1988,"month":7,"date":1,"utc":true},{"year":1988,"month":8,"date":1,"utc":true},{"year":1988,"month":9,"date":1,"utc":true},{"year":1988,"month":10,"date":1,"utc":true},{"year":1988,"month":11,"date":1,"utc":true},{"year":1988,"month":12,"date":1,"utc":true}]}},
   "y":{"field":"v","type":"quantitative","axis":{"orient":"right","title":null,"labels":false,"grid":false,"domain":false,
     "values":[0.2,0.3,0.4,0.5,0.6,0.7,0.8,0.9,1,2,3,4,5,6,7,8,9,10],
     "tickSize":{"condition":{"test":"datum.value===1||datum.value===10","value":-7},"value":-4}}}
  }}
],
"resolve":{"axis":{"x":"independent","y":"independent"}}
}
